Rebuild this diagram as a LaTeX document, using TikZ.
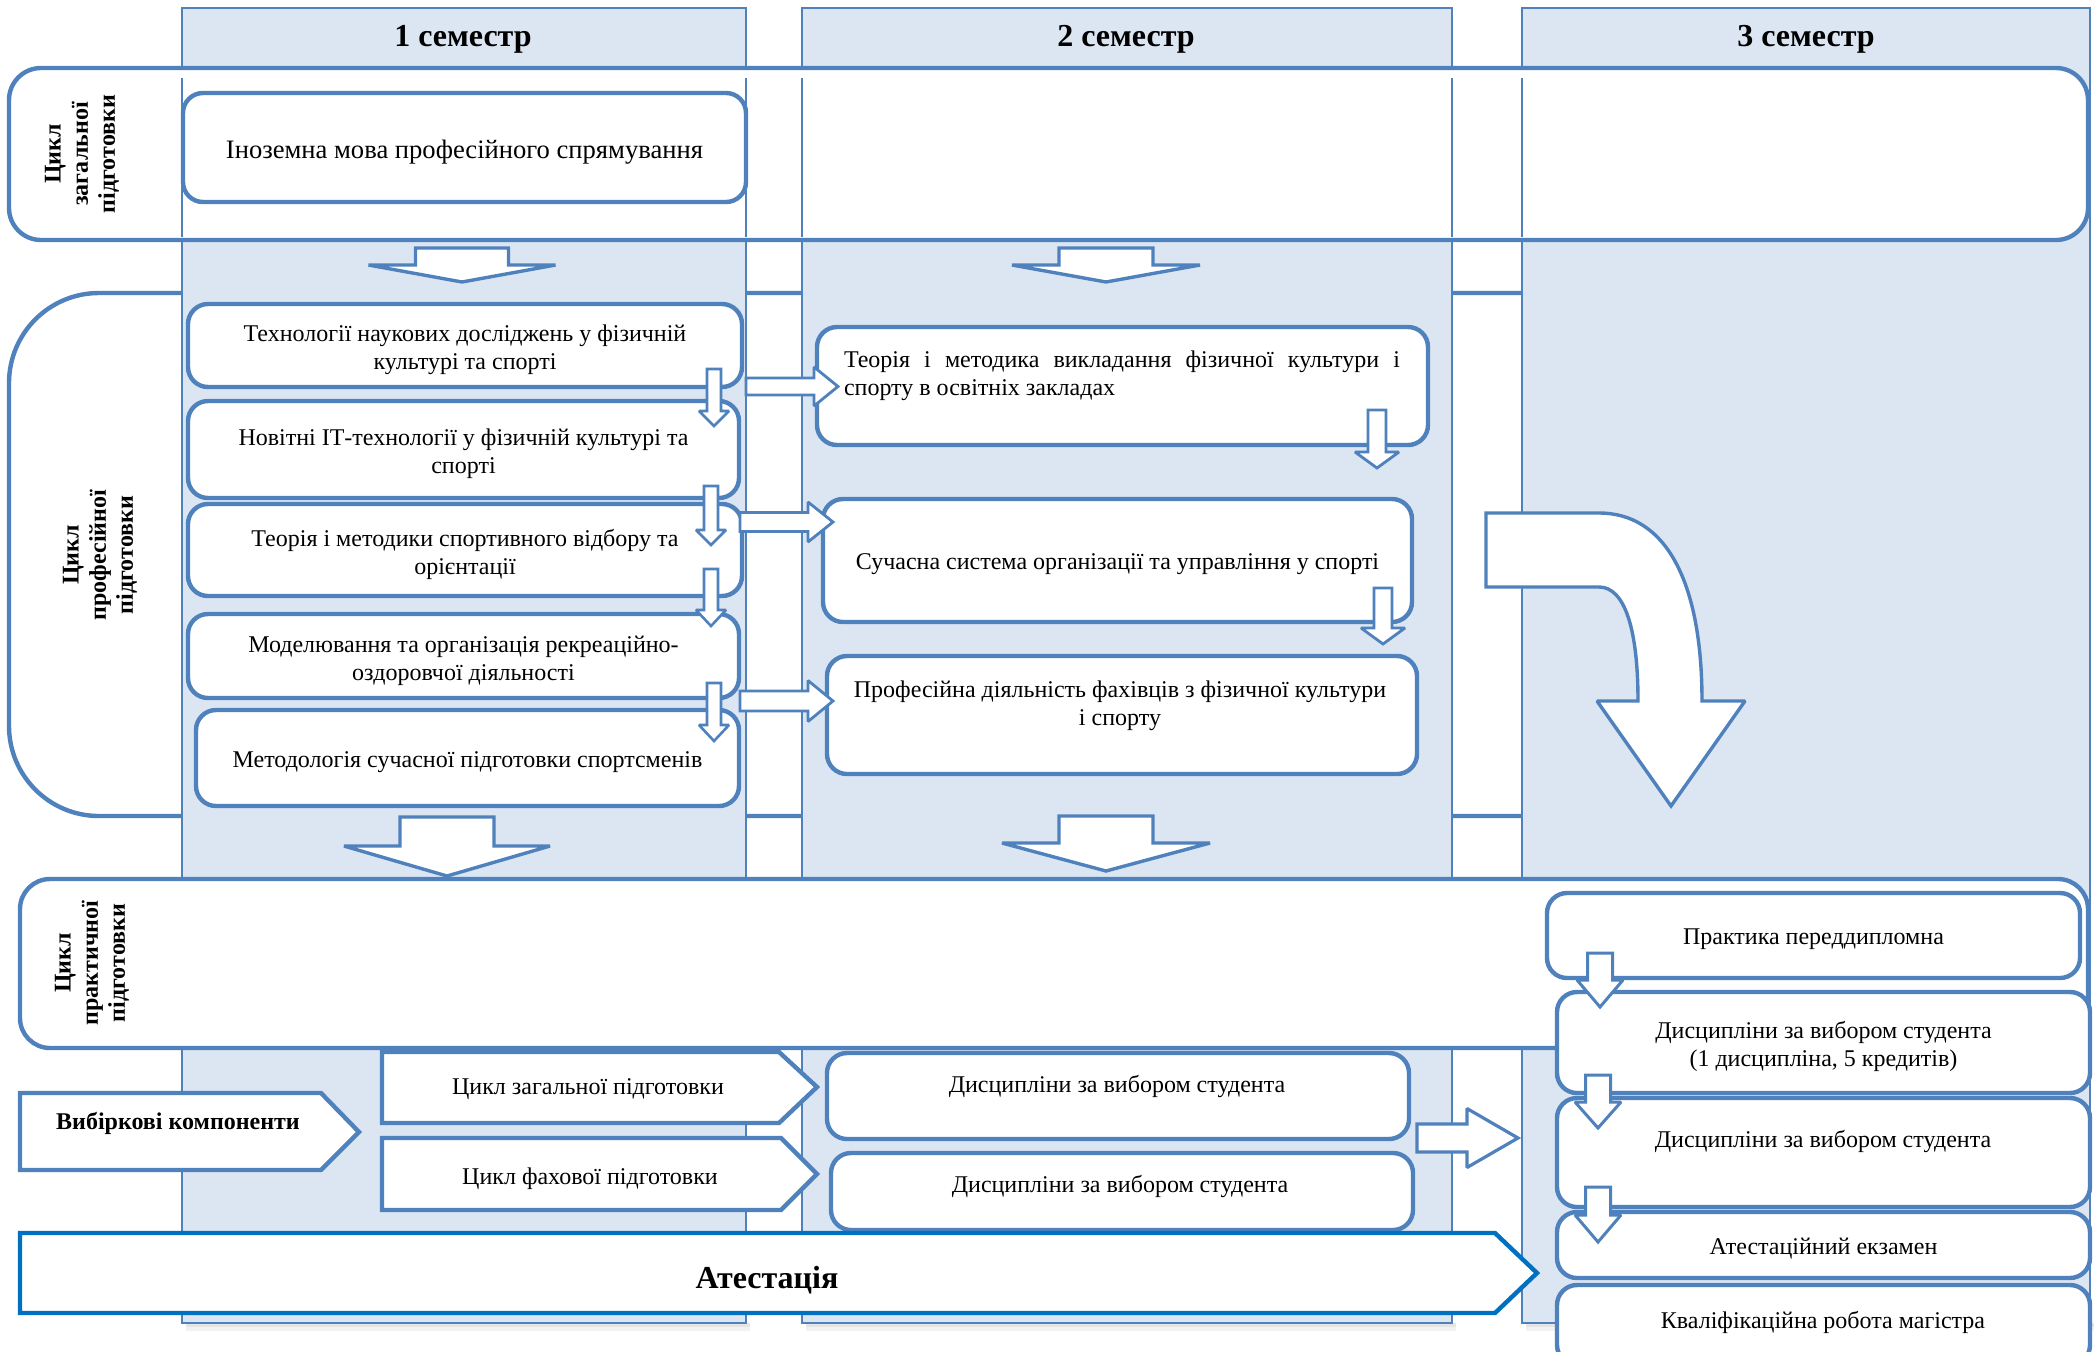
\documentclass[tikz,border=0pt]{standalone}
\usepackage{fontspec}
\setmainfont{Liberation Serif}
\definecolor{bl}{RGB}{79,129,189}
\definecolor{colfill}{RGB}{220,230,242}
\definecolor{atb}{RGB}{0,112,192}
\tikzset{
  band/.style={draw=bl, line width=2.2pt, fill=white},
  semcol/.style={draw=bl, line width=0.7pt, fill=colfill},
  colline/.style={draw=bl, line width=0.7pt},
  box/.style={draw=bl, line width=2.2pt, fill=white, rounded corners=10pt, inner sep=0pt},
  txt/.style={font=\fontsize{12}{14}\selectfont, inner sep=0pt, align=center},
  pent/.style={draw=bl, line width=2.2pt, fill=white, line join=miter},
  blk/.style={draw=bl, line width=1.7pt, fill=white, line join=miter, miter limit=2},
  vlab/.style={font=\fontsize{12}{13.6}\selectfont\bfseries, rotate=90, align=center, inner sep=0pt},
  semhead/.style={font=\fontsize{16}{18}\selectfont\bfseries, inner sep=0pt},
}
% box with its text: [#1 text options] #2 name, #3 cx, #4 cy, #5 width pt, #6 height pt, #7 text
\newcommand{\tbox}[7][]{%
  \node[box, minimum width=#5pt, minimum height=#6pt] (#2) at (#3,#4) {};
  \node[txt,#1] (#2t) at ([yshift=-2pt]#2.center) {#7};}
% #2 cx, #3 top, #4 head base, #5 tip, #6 shaft half width, #7 head half width
\newcommand{\dnarrow}[7][]{%
  \draw[blk,#1] ({#2-#6},#3) -- ({#2+#6},#3) -- ({#2+#6},#4) -- ({#2+#7},#4)
    -- (#2,#5) -- ({#2-#7},#4) -- ({#2-#6},#4) -- cycle;}
% #2 start x, #3 head x, #4 tip x, #5 cy, #6 shaft half, #7 head half
\newcommand{\rtarrow}[7][]{%
  \draw[blk,#1] (#2,{#5-#6}) -- (#3,{#5-#6}) -- (#3,{#5-#7}) -- (#4,#5)
    -- (#3,{#5+#7}) -- (#3,{#5+#6}) -- (#2,{#5+#6}) -- cycle;}
\begin{document}
\begin{tikzpicture}[x=0.5pt,y=-0.5pt]
\useasboundingbox (0,0) rectangle (2095,1351);
\clip (0,0) rectangle (2095,1351);
% row 2 band (behind columns)
\draw[band, rounded corners=45pt] (1560,293) -- (9,293) -- (9,816) -- (1560,816);
% column shadows
\foreach \xa/\xb in {186/750, 806/1456, 1526/2094} {
  \fill[black!10] (\xa,1323) rectangle (\xb,1327);
  \fill[black!5] (\xa,1327) rectangle (\xb,1331);
}
% semester columns
\path[semcol] (182,8) rectangle (746,1323);
\path[semcol] (802,8) rectangle (1452,1323);
\path[semcol] (1522,8) rectangle (2090,1323);
% row 1 band
\draw[band, rounded corners=16pt] (9,68) rectangle (2088,240);
\foreach \xx in {182,746,802,1452,1522} \draw[colline] (\xx,78) -- (\xx,237);
% row 3 band
\draw[band, rounded corners=15pt] (20,879) rectangle (2088,1048);

% headers
\node[semhead] (s1) at (463,39.5) {1 семестр};
\node[semhead] (s2) at (1126,39.5) {2 семестр};
\node[semhead] (s3) at (1806,39.5) {3 семестр};

% vertical labels
\node[vlab] (l1) at (82,154) {Цикл\\загальної\\підготовки};
\node[vlab] (l2) at (100,555) {Цикл\\професійної\\підготовки};
\node[vlab] (l3) at (92,963) {Цикл\\практичної\\підготовки};

% row 1
\tbox[font=\fontsize{13.3}{15}\selectfont, yshift=-0.5pt]{b1}{464.5}{147.5}{281.5}{54.5}{Іноземна мова професійного спрямування}

% column 1, row 2
\tbox{b2}{465}{345.5}{277}{41.5}{Технології наукових досліджень у фізичній\\культурі та спорті}
\tbox{b3}{463.5}{449.5}{275.5}{48.5}{Новітні ІТ-технології у фізичній культурі та\\спорті}
\tbox{b4}{465}{550}{277}{46}{Теорія і методики спортивного відбору та\\орієнтації}
\tbox[yshift=-0.5pt]{b5}{463.5}{656}{275.5}{42}{Моделювання та організація рекреаційно-\\оздоровчої діяльності}
\tbox{b6}{467.5}{758}{271.5}{48}{Методологія сучасної підготовки спортсменів}

% column 2, row 2
\node[box, minimum width=305.5pt, minimum height=59pt] (c1) at (1122.5,386) {};
\node[txt, text width=278pt, align=justify] (c1t) at (1122,376) {Теорія і методика викладання фізичної культури і спорту в освітніх закладах};
\tbox{c2}{1117.5}{560.5}{294.5}{61.5}{Сучасна система організації та управління у спорті}
\node[box, minimum width=295pt, minimum height=59pt] (c3) at (1122,715) {};
\node[txt] (c3t) at (1120,705.5) {Професійна діяльність фахівців з фізичної культури\\і спорту};

% column 2, bottom
\node[box, minimum width=291pt, minimum height=43pt] (d1) at (1118,1096) {};
\node[txt] (d1t) at (1117,1086) {Дисципліни за вибором студента};
\node[box, minimum width=291pt, minimum height=38.5pt] (d2) at (1122,1191.5) {};
\node[txt] (d2t) at (1120,1186) {Дисципліни за вибором студента};

% column 3
\tbox{e1}{1813.5}{935.5}{266.5}{42.5}{Практика переддипломна}
\tbox{e2}{1823.5}{1042.5}{266.5}{50.5}{Дисципліни за вибором студента\\(1 дисципліна, 5 кредитів)}
\node[box, minimum width=266.5pt, minimum height=54.5pt] (e3) at (1823.5,1152.5) {};
\node[txt] (e3t) at (1823,1141) {Дисципліни за вибором студента};
\tbox{e4}{1823.5}{1245}{266.5}{33}{Атестаційний екзамен}
\node[box, minimum width=266.5pt, minimum height=40pt] (e5) at (1823.5,1325) {};
\node[txt] (e5t) at (1823,1322) {Кваліфікаційна робота магістра};

% pentagons
\draw[pent] (20,1093) -- (321,1093) -- (359,1132) -- (321,1170) -- (20,1170) -- cycle;
\node[txt, font=\fontsize{12}{14}\selectfont\bfseries] (p0) at (178,1123) {Вибіркові компоненти};
\draw[pent] (382,1052) -- (779,1052) -- (817,1087) -- (779,1123) -- (382,1123) -- cycle;
\node[txt] (p1) at (588,1089.5) {Цикл загальної підготовки};
\draw[pent] (382,1138) -- (781,1138) -- (817,1174) -- (781,1210) -- (382,1210) -- cycle;
\node[txt] (p2) at (590,1178.5) {Цикл фахової підготовки};
\draw[pent, draw=atb] (20,1233) -- (1495,1233) -- (1537,1273) -- (1495,1313) -- (20,1313) -- cycle;
\node[txt, font=\fontsize{16}{18}\selectfont\bfseries] (att) at (767,1280) {Атестація};

% big down arrows between rows
\dnarrow{462}{248}{265}{282}{46.5}{93.5}
\dnarrow{1106}{248}{265}{282}{47}{94}
\dnarrow{447}{817}{846}{876}{47}{103}
\dnarrow{1106}{816}{843}{871}{47}{104}

% small down arrows, column 1
\dnarrow[line width=1.3pt]{714}{369}{411}{426}{7}{15}
\dnarrow[line width=1.3pt]{711}{486}{530}{545}{7}{15}
\dnarrow[line width=1.3pt]{711}{569}{610}{626}{7}{15}
\dnarrow[line width=1.3pt]{714}{683}{725}{741}{7}{15}
% small down arrows, column 2
\dnarrow[line width=1.4pt]{1377}{410}{452}{468}{9}{22}
\dnarrow[line width=1.4pt]{1383}{588}{628}{644}{9}{22}
% small down arrows, column 3
\dnarrow[line width=1.5pt]{1600}{953}{980}{1007}{12.5}{23}
\dnarrow[line width=1.5pt]{1598}{1075}{1102}{1128}{12.5}{23}
\dnarrow[line width=1.5pt]{1598}{1187}{1215}{1242}{12.5}{23}

% right arrows
\rtarrow[line width=1.4pt]{746}{814}{838}{386.5}{8.5}{19.5}
\rtarrow[line width=1.4pt]{740}{808}{833}{522}{9.5}{20}
\rtarrow[line width=1.4pt]{740}{808}{833}{701}{10}{20.5}
\rtarrow[line width=1.6pt]{1417}{1467}{1518}{1138}{14}{29.5}

% big curved arrow
\draw[blk] (1486,513) -- (1599,513) .. controls (1665,513) and (1702,580) .. (1702,701)
  -- (1745,701) -- (1671,806) -- (1597,701) -- (1638,701)
  .. controls (1638,630) and (1625,587) .. (1599,587) -- (1486,587) -- cycle;
\end{tikzpicture}
\end{document}
